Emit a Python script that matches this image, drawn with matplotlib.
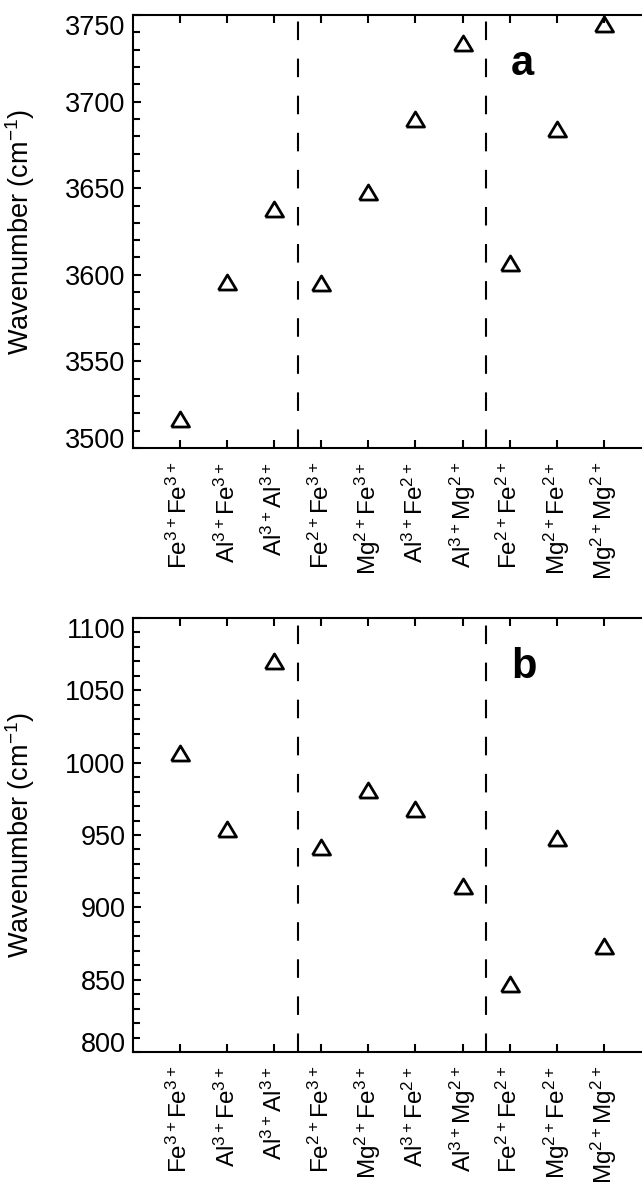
import matplotlib
matplotlib.use('Agg')
import matplotlib.pyplot as plt
from matplotlib.ticker import MultipleLocator

plt.rcParams['font.family'] = ['Liberation Sans', 'DejaVu Sans']
plt.rcParams['mathtext.default'] = 'regular'

# Cation pairs around the OH group
pairs = ['Fe$^{3+}$Fe$^{3+}$', 'Al$^{3+}$Fe$^{3+}$', 'Al$^{3+}$Al$^{3+}$',
         'Fe$^{2+}$Fe$^{3+}$', 'Mg$^{2+}$Fe$^{3+}$', 'Al$^{3+}$Fe$^{2+}$',
         'Al$^{3+}$Mg$^{2+}$', 'Fe$^{2+}$Fe$^{2+}$', 'Mg$^{2+}$Fe$^{2+}$',
         'Mg$^{2+}$Mg$^{2+}$']
positions = [1, 2, 3, 4, 5, 6, 7, 8, 9, 10]

# (a) OH stretching and (b) OH bending wavenumbers, cm^-1
stretch = [3517, 3596, 3638, 3595, 3648, 3690, 3734, 3607, 3684, 3745]
bend = [1007, 954, 1070, 942, 981, 968, 915, 847, 948, 873]

# group separators (trivalent-trivalent | trivalent-divalent | divalent-divalent)
separators = [3.5, 7.5]

# slightly flattened open triangle
tri = [(-1.2, -1), (1.2, -1), (0, 1), (-1.2, -1)]

fig = plt.figure(figsize=(6.42, 11.82), dpi=100)
ax_a = fig.add_axes([132.5 / 642, 1 - 448 / 1182, 518.7 / 642, 433 / 1182])
ax_b = fig.add_axes([132.5 / 642, 1 - 1052 / 1182, 518.7 / 642, 434 / 1182])

panels = [
    (ax_a, stretch, (3500, 3750), [3500, 3550, 3600, 3650, 3700, 3750], 'a'),
    (ax_b, bend, (800, 1100), [800, 850, 900, 950, 1000, 1050, 1100], 'b'),
]

for ax, vals, ylim, yticks, letter in panels:
    ax.plot(positions, vals, ls='none', marker=tri, ms=13, mfc='none',
            mec='black', mew=2, clip_on=False)
    for s in separators:
        ax.axvline(s, color='black', lw=1.5, ls=(0, (8.9, 8.9)))

    ax.set_xlim(0, 11)
    ax.set_ylim(*ylim)
    ax.set_xticks(positions)
    ax.set_xticklabels(pairs, rotation=90, fontsize=17.5)
    ax.set_yticks(yticks)
    ax.yaxis.set_minor_locator(MultipleLocator(10))

    for sp in ax.spines.values():
        sp.set_linewidth(1.5)
    ax.tick_params(which='both', direction='in', top=True, right=True,
                   width=1.5)
    ax.tick_params(which='major', length=6)
    ax.tick_params(which='minor', length=4.8)
    ax.tick_params(axis='x', pad=10)
    ax.tick_params(axis='y', pad=5, labelsize=19.5)

    # end labels sit inside the axis range
    labels = ax.get_yticklabels()
    labels[0].set_va('baseline')
    labels[-1].set_va('top')

    ax.set_ylabel('Wavenumber (cm$^{-1}$)', fontsize=19.5)
    ax.yaxis.set_label_coords(-0.184, 0.5)

    ax.text(0.73, 1 - 60 / 433, letter, transform=ax.transAxes, fontsize=30,
            fontweight='bold', ha='left', va='baseline')

fig.savefig('out.png', dpi=100)
